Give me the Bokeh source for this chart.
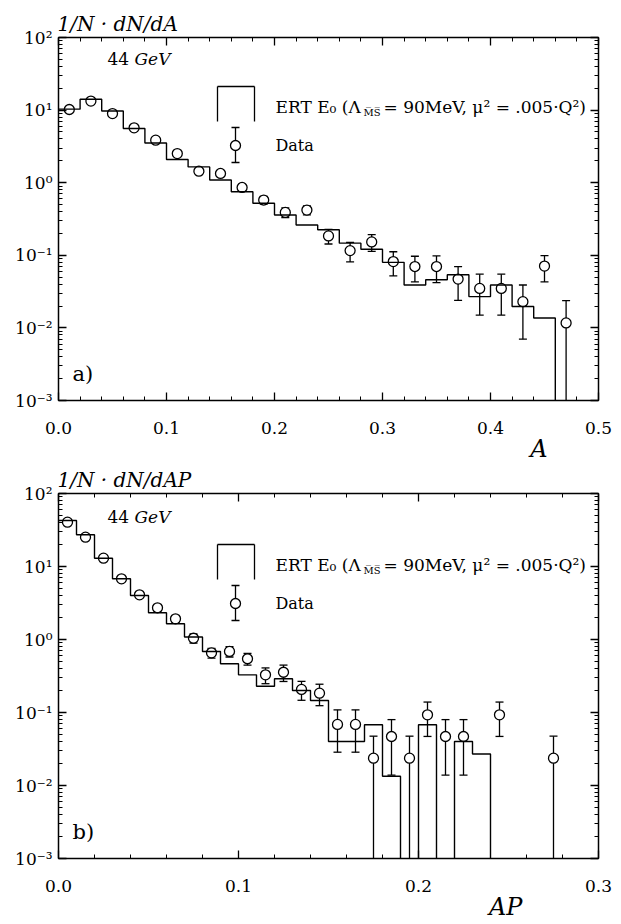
import numpy as np
from bokeh.plotting import figure
from bokeh.layouts import column
from bokeh.models import (Range1d, LinearAxis, LogAxis, FixedTicker, LogTicker,
                          PrintfTickFormatter, CustomJSTickFormatter, Label, Arrow,
                          BoxAnnotation, ColumnDataSource, Title)
from bokeh.embed import file_html
from bokeh.resources import INLINE

# ---------------- data: panel a) aplanarity A, 44 GeV ----------------
a_bin_width = 0.02
a_ert = [10.3, 14.1, 9.7, 5.57, 3.53, 2.09, 1.65, 1.09, 0.75, 0.52, 0.359, 0.262,
         0.225, 0.147, 0.121, 0.080, 0.039, 0.046, 0.054, 0.027, 0.039, 0.0197,
         0.0137, 0.0, 0.0]
a_data_x = [0.01, 0.03, 0.05, 0.07, 0.09, 0.11, 0.13, 0.15, 0.17, 0.19, 0.21, 0.23,
            0.25, 0.27, 0.29, 0.31, 0.33, 0.35, 0.37, 0.39, 0.41, 0.43, 0.45, 0.47]
a_data_y = [10.2, 13.3, 8.96, 5.7, 3.85, 2.52, 1.44, 1.34, 0.86, 0.577, 0.39, 0.42,
            0.185, 0.116, 0.153, 0.082, 0.070, 0.070, 0.047, 0.035, 0.035, 0.023,
            0.071, 0.0117]
a_data_err = [0.35, 0.4, 0.33, 0.25, 0.2, 0.16, 0.12, 0.11, 0.09, 0.07, 0.06, 0.06,
              0.042, 0.035, 0.04, 0.03, 0.027, 0.028, 0.023, 0.02, 0.02, 0.016,
              0.028, 0.012]
a_x_ticks = [0.0, 0.1, 0.2, 0.3, 0.4, 0.5]

# ---------------- data: panel b) AP, 44 GeV ----------------
ap_bin_width = 0.01
ap_ert = [42.6, 27.2, 13.0, 6.8, 4.0, 2.32, 1.64, 1.08, 0.686, 0.465, 0.328, 0.229,
          0.29, 0.2, 0.146, 0.040, 0.040, 0.068, 0.0134, 0.0, 0.068, 0.0, 0.040,
          0.027, 0.0, 0.0, 0.0, 0.0, 0.0, 0.0]
ap_data_x = [0.005, 0.015, 0.025, 0.035, 0.045, 0.055, 0.065, 0.075, 0.085, 0.095,
             0.105, 0.115, 0.125, 0.135, 0.145, 0.155, 0.165, 0.175, 0.185, 0.195,
             0.205, 0.215, 0.225, 0.245, 0.275]
ap_data_y = [40.5, 25.2, 13.0, 6.78, 4.09, 2.72, 1.92, 1.04, 0.657, 0.686, 0.545,
             0.328, 0.356, 0.207, 0.184, 0.0686, 0.0686, 0.0237, 0.0469, 0.0237,
             0.093, 0.0469, 0.0469, 0.093, 0.0237]
ap_data_err = [1.0, 0.75, 0.55, 0.4, 0.3, 0.25, 0.2, 0.15, 0.1, 0.11, 0.1, 0.08,
               0.09, 0.06, 0.06, 0.04, 0.04, 0.0237, 0.033, 0.0237, 0.046, 0.033,
               0.033, 0.046, 0.0237]
ap_x_ticks = [0.0, 0.1, 0.2, 0.3]

SERIF = "DejaVu Serif"
FLOOR = 1e-7

SUP_JS = """
const sup = {'-':'\u207b','0':'\u2070','1':'\u00b9','2':'\u00b2','3':'\u00b3',
             '4':'\u2074','5':'\u2075','6':'\u2076','7':'\u2077','8':'\u2078','9':'\u2079'};
const e = Math.round(Math.log10(tick));
return '10' + String(e).split('').map(c => sup[c]).join('');
"""


def style_axis(ax, labels=True, size="17px"):
    ax.axis_line_color = "black"
    ax.axis_line_width = 1.5
    ax.major_tick_in = 8
    ax.major_tick_out = 0
    ax.minor_tick_in = 4
    ax.minor_tick_out = 0
    ax.major_tick_line_width = 1.3
    ax.minor_tick_line_width = 1.0
    ax.major_tick_line_color = "black"
    ax.minor_tick_line_color = "black"
    ax.major_label_text_font = SERIF
    ax.major_label_text_font_size = size
    ax.major_label_text_color = "black"
    if not labels:
        ax.formatter = CustomJSTickFormatter(code="return ''")
        ax.major_label_standoff = 0


def make_panel(xmax, x_ticks, bin_width, ert, dx, dy, derr, ytitle, xtitle, tag,
               borders, xlab_offset, cap):
    bl, br, bt, bb = borders
    p = figure(width=621, height=462, x_range=Range1d(0, xmax),
               y_range=Range1d(1e-3, 1e2), y_axis_type="log",
               output_backend="svg", toolbar_location=None,
               min_border_left=bl, min_border_right=br,
               min_border_top=bt, min_border_bottom=bb,
               outline_line_color=None, background_fill_color="white",
               border_fill_color="white")
    p.grid.visible = False

    p.title.text = ytitle
    p.title.align = "left"
    p.title.offset = -1
    p.title.standoff = 4
    p.title.text_font = SERIF
    p.title.text_font_size = "20px"
    p.title.text_font_style = "italic"
    p.title.text_color = "black"

    minor = list(np.round(np.arange(0, xmax + 1e-9, 0.02), 3))
    p.xaxis.ticker = FixedTicker(ticks=x_ticks, minor_ticks=minor)
    p.xaxis.formatter = PrintfTickFormatter(format="%.1f")
    p.yaxis.ticker = LogTicker(num_minor_ticks=10)
    p.yaxis.formatter = CustomJSTickFormatter(code=SUP_JS)
    for ax in p.xaxis:
        style_axis(ax)
        ax.major_label_standoff = 21
    for ax in p.yaxis:
        style_axis(ax)
        ax.major_label_standoff = 6

    top = LinearAxis(ticker=FixedTicker(ticks=x_ticks, minor_ticks=minor))
    style_axis(top, labels=False)
    p.add_layout(top, "above")
    right = LogAxis(ticker=LogTicker(num_minor_ticks=10))
    style_axis(right, labels=False)
    p.add_layout(right, "right")

    p.add_layout(Title(text=xtitle, align="right", offset=xlab_offset, standoff=-8,
                       text_font=SERIF, text_font_size="24px",
                       text_font_style="italic", text_color="black"), "below")

    # ERT histogram (step line from bin edges)
    vals = np.array(ert, dtype=float)
    vals = np.where(vals > 0, vals, FLOOR)
    edges = np.arange(len(vals) + 1) * bin_width
    hx = np.repeat(edges, 2)[1:-1]
    hy = np.repeat(vals, 2)

    # data with error bars
    dx = np.array(dx)
    dy = np.array(dy)
    de = np.array(derr)
    lo = np.where(dy - de > 0, dy - de, FLOOR)
    hi = dy + de
    src = ColumnDataSource(dict(x=dx, y=dy, lo=lo, hi=hi))
    p.segment(x0="x", y0="lo", x1="x", y1="hi", source=src, line_color="black",
              line_width=1.3)
    p.scatter(x="x", y="hi", source=src, marker="dash", size=cap,
              line_color="black", line_width=1.3)
    p.scatter(x="x", y="lo", source=src, marker="dash", size=cap,
              line_color="black", line_width=1.3)
    p.scatter(x="x", y="y", source=src, marker="circle", size=10,
              fill_color="white", line_color="black", line_width=1.3)
    p.line(hx, hy, line_color="black", line_width=1.4)

    # texts inside the frame (screen units relative to the frame)
    def lab(x, y, text, size, style="normal", align="left", baseline="middle"):
        p.add_layout(Label(x=x, y=y, x_units="screen", y_units="screen", text=text,
                           text_font=SERIF, text_font_size=size,
                           text_font_style=style, text_align=align,
                           text_baseline=baseline, text_color="black"))

    lab(49, 342, "44", "17px")
    lab(76, 342, "GeV", "17px", "italic")
    lab(14, 27, tag, "21px")

    # legend: ERT bracket
    bx0, bx1, by0, by1 = 159, 196, 279, 314
    for (x0, y0, x1, y1) in [(bx0, by0, bx0, by1), (bx0, by1, bx1, by1),
                             (bx1, by1, bx1, by0)]:
        p.add_layout(Arrow(x_start=x0, y_start=y0, x_end=x1, y_end=y1,
                           start_units="screen", end_units="screen",
                           start=None, end=None, line_color="black",
                           line_width=1.3))
    lab(217, 294, "ERT E\u2080 (\u039b", "17px")
    lab(305, 288, "M\u0305S\u0305", "10px")
    lab(325, 294, "= 90MeV, \u03bc\u00b2 = .005\u00b7Q\u00b2)", "17px")

    # legend: data symbol
    cx, cy = 177, 255
    p.add_layout(Arrow(x_start=cx, y_start=cy - 17, x_end=cx, y_end=cy + 18,
                       start_units="screen", end_units="screen", start=None,
                       end=None, line_color="black", line_width=1.3))
    for yy in (cy - 17, cy + 18):
        p.add_layout(Arrow(x_start=cx - 4, y_start=yy, x_end=cx + 4, y_end=yy,
                           start_units="screen", end_units="screen", start=None,
                           end=None, line_color="black", line_width=1.3))
    p.add_layout(BoxAnnotation(left=cx - 5, right=cx + 5, bottom=cy - 5, top=cy + 5,
                               left_units="screen", right_units="screen",
                               top_units="screen", bottom_units="screen",
                               border_radius=5, fill_color="white", fill_alpha=1.0,
                               line_color="black", line_width=1.3,
                               line_alpha=1.0))
    lab(217, 255, "Data", "16px")
    return p


pa = make_panel(0.5, a_x_ticks, a_bin_width, a_ert, a_data_x, a_data_y, a_data_err,
                "1/N \u00b7 dN/dA", "A", "a)", (58, 23, 37, 62), 51, 8)
pb = make_panel(0.3, ap_x_ticks, ap_bin_width, ap_ert, ap_data_x, ap_data_y,
                ap_data_err, "1/N \u00b7 dN/dAP", "AP", "b)", (58, 22, 31, 66), 76, 8)

layout = column(pa, pb, spacing=0)
open("out.html", "w").write(file_html(layout, INLINE))
